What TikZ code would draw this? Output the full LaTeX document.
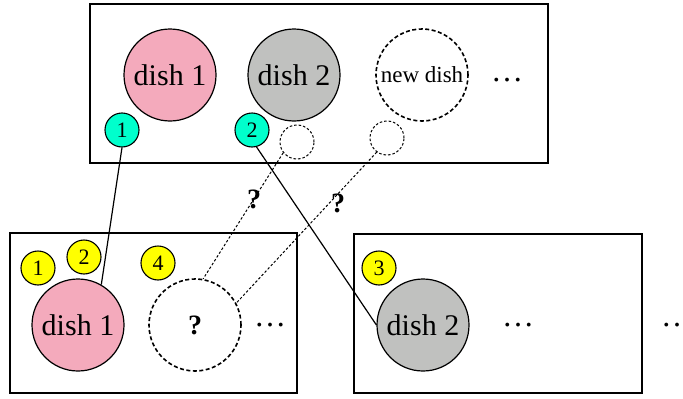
\documentclass[tikz,border=0pt]{standalone}
\usepackage{fontspec}
\setmainfont{Liberation Serif}
\definecolor{dishpink}{RGB}{244,170,188}
\definecolor{dishgray}{RGB}{192,193,191}
\definecolor{tagcyan}{RGB}{0,255,204}
\definecolor{tagyellow}{RGB}{255,255,0}
\tikzset{
  panel/.style={draw, line width=1.8pt},
  dish/.style={circle, draw, line width=1.2pt, minimum size=92pt, inner sep=0pt,
    font=\fontsize{30}{36}\selectfont},
  pinkdish/.style={dish, fill=dishpink},
  graydish/.style={dish, fill=dishgray},
  opendish/.style={dish, line width=1.6pt, dash pattern=on 4pt off 2.5pt},
  slot/.style={circle, draw, line width=1pt, dash pattern=on 2.5pt off 2pt,
    minimum size=34pt, inner sep=0pt},
  tag/.style={circle, draw, line width=1.1pt, minimum size=34pt, inner sep=0pt,
    font=\fontsize{22}{24}\selectfont},
  cyantag/.style={tag, fill=tagcyan},
  yellowtag/.style={tag, fill=tagyellow},
  dots/.style={font=\fontsize{32}{36}\selectfont, inner sep=0pt},
  link/.style={line width=1.2pt},
  guess/.style={line width=1pt, dash pattern=on 2.5pt off 2pt},
  qmark/.style={font=\bfseries\fontsize{28}{30}\selectfont, inner sep=0pt}
}
\begin{document}
\begin{tikzpicture}[x=1pt, y=-1pt]
  \useasboundingbox (0,0) rectangle (683,399);

  % upper panel
  \draw[panel, line width=2.2pt] (90,4) rectangle (548,163);
  \node[pinkdish] (ta) at (170,75) {dish 1};
  \node[graydish] (tb) at (294,75) {dish 2};
  \node[opendish, font=\fontsize{23}{26}\selectfont] (tn) at (422,75) {new dish};
  \node[dots] (tdots) at (507,80) {…};
  \node[cyantag] (g1) at (122,130) {1};
  \node[cyantag] (g2) at (252,130) {2};
  \node[slot] (s1) at (297,142) {};
  \node[slot] (s2) at (387,138) {};

  % lower left panel
  \draw[panel] (10,233) rectangle (297,393);
  \node[yellowtag] (y1) at (38,268) {1};
  \node[yellowtag] (y2) at (84,257) {2};
  \node[yellowtag] (y4) at (158,263) {4};
  \node[pinkdish] (la) at (78,325) {dish 1};
  \node[opendish, font=\bfseries\fontsize{28}{30}\selectfont] (lq) at (195,325) {?};
  \node[dots] (ldots) at (270,325) {…};

  % lower right panel
  \draw[panel] (354,234) rectangle (642,393);
  \node[yellowtag] (y3) at (379,268) {3};
  \node[graydish] (rb) at (423,325) {dish 2};
  \node[dots] (rdots) at (518,325) {…};
  \node[dots] (odots) at (677,325) {…};

  % links between the panels
  \draw[link] (g1.south) -- (la.60);
  \draw[link] (g2.285) -- (rb.west);
  \draw[guess] (s1.218) -- (lq.80);
  \draw[guess] (s2.234) -- (lq.28);
  \node[qmark] (q1) at (254,199) {?};
  \node[qmark] (q2) at (338,203) {?};
\end{tikzpicture}
\end{document}
